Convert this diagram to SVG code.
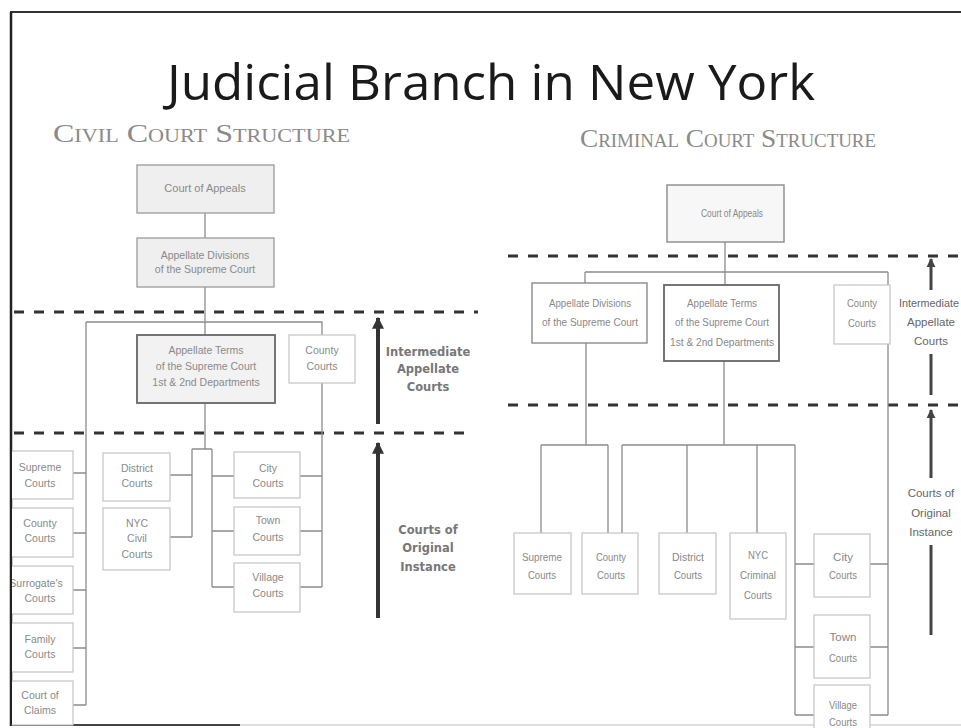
<svg xmlns="http://www.w3.org/2000/svg" width="961" height="728" viewBox="0 0 961 728">
<style>
.title{font-family:"Open Sans","DejaVu Sans",sans-serif;font-size:50px;fill:#1a1a1a}
.sub{font-family:"Liberation Serif",serif;font-size:26px;fill:#8a8a8a;font-variant:small-caps}
.bx{fill:#fff;stroke:#c4c4c4;stroke-width:1.2}
.bxg{fill:#efefef;stroke:#9a9a9a;stroke-width:1.3}
.bxd{fill:#f2f2f2;stroke:#666;stroke-width:1.8}
.bxm{fill:#fff;stroke:#8a8a8a;stroke-width:1.4}
.t{font-family:"Liberation Sans",Arial,sans-serif;font-size:10.5px;fill:#8a8a8a;text-anchor:middle}
.tc{font-family:"Liberation Sans",Arial,sans-serif;font-size:11.5px;fill:#888;text-anchor:middle}
.lab{font-family:"DejaVu Sans",Verdana,sans-serif;font-size:11.5px;font-weight:bold;fill:#777;text-anchor:middle}
.labc{font-family:"Liberation Sans",Arial,sans-serif;font-size:11.5px;fill:#666;text-anchor:middle}
.ln{fill:none;stroke:#8c8c8c;stroke-width:1.3}
.dash{fill:none;stroke:#333;stroke-width:3;stroke-dasharray:10 10}
.arr{fill:none;stroke:#333;stroke-width:4}
.arrc{fill:none;stroke:#444;stroke-width:3}
</style>
<defs>
<marker id="ah" viewBox="0 0 10 10" refX="9" refY="5" markerWidth="3" markerHeight="4" orient="auto"><path d="M0,0 L10,5 L0,10 z" fill="#333"/></marker>
<marker id="ahc" viewBox="0 0 10 10" refX="9" refY="5" markerWidth="3" markerHeight="4" orient="auto"><path d="M0,0 L10,5 L0,10 z" fill="#444"/></marker>
<clipPath id="clipL"><rect x="12" y="0" width="949" height="728"/></clipPath>
</defs>
<rect width="961" height="728" fill="#fff"/>
<g id="frame">
<line x1="10" y1="12" x2="961" y2="12" stroke="#333" stroke-width="2"/>
<line x1="11" y1="12" x2="11" y2="726" stroke="#222" stroke-width="2.5"/>
<line x1="11" y1="725" x2="240" y2="725" stroke="#444" stroke-width="2"/>
<line x1="240" y1="725" x2="961" y2="725" stroke="#ddd" stroke-width="2"/>
</g>
<text class="title" x="491" y="100" textLength="648" lengthAdjust="spacingAndGlyphs" text-anchor="middle">Judicial Branch in New York</text>
<text class="sub" x="53" y="142" textLength="297" lengthAdjust="spacingAndGlyphs">Civil Court Structure</text>
<text class="sub" x="580" y="147" textLength="296" lengthAdjust="spacingAndGlyphs">Criminal Court Structure</text>

<g id="levels">
<line class="dash" x1="14" y1="312" x2="478" y2="312"/>
<line class="dash" x1="14" y1="433" x2="470" y2="433"/>
<line class="dash" x1="508" y1="256" x2="961" y2="256"/>
<line class="dash" x1="508" y1="405" x2="961" y2="405"/>
<line class="arr" x1="378" y1="424" x2="378" y2="318" marker-end="url(#ah)"/>
<line class="arr" x1="378" y1="618" x2="378" y2="443" marker-end="url(#ah)"/>
<line class="arrc" x1="931" y1="290" x2="931" y2="259" marker-end="url(#ahc)"/>
<line class="arrc" x1="931" y1="354" x2="931" y2="395"/>
<line class="arrc" x1="931" y1="478" x2="931" y2="410" marker-end="url(#ahc)"/>
<line class="arrc" x1="931" y1="545" x2="931" y2="635"/>
<text class="lab" x="428" y="356">Intermediate</text>
<text class="lab" x="428" y="373">Appellate</text>
<text class="lab" x="428" y="391">Courts</text>
<text class="lab" x="428" y="534">Courts of</text>
<text class="lab" x="428" y="552">Original</text>
<text class="lab" x="428" y="571">Instance</text>
<text class="labc" x="929" y="307" textLength="60" lengthAdjust="spacingAndGlyphs">Intermediate</text>
<text class="labc" x="931" y="326">Appellate</text>
<text class="labc" x="931" y="345">Courts</text>
<text class="labc" x="931" y="497">Courts of</text>
<text class="labc" x="931" y="517">Original</text>
<text class="labc" x="931" y="536">Instance</text>
</g>

<g id="connectors">
<path class="ln" d="M205,213 V238 M205,287 V335 M86,322 H322 V335 M86,322 V705 M322,383 V587 M205,403 V449 M192,449 H212 M192,449 V537 M212,449 V587"/>
<path class="ln" d="M73,473 H86 M73,533 H86 M73,590 H86 M73,648 H86 M73,705 H86"/>
<path class="ln" d="M170,475 H192 M170,537 H192 M212,476 H234 M212,531 H234 M212,587 H234 M300,476 H322 M300,531 H322 M300,587 H322"/>
<path class="ln" d="M725,242 V285 M585,272 H888 M585,272 V283 M888,272 V285 M888,344 V715 M586,343 V445 M541,445 H608 M541,445 V533 M608,445 V533 M724,361 V445 M622,445 H795 M622,445 V533 M687,445 V533 M757,445 V533 M795,445 V715"/>
<path class="ln" d="M795,564 H814 M870,564 H888 M795,647 H814 M870,647 H888 M795,715 H814 M870,715 H888"/>
</g>

<g id="civil-court-of-appeals"><rect class="bxg" x="137" y="165" width="137" height="48"/><text class="t" x="205" y="192" style="font-size:11px">Court of Appeals</text></g>
<g id="civil-appellate-divisions"><rect class="bxg" x="137" y="238" width="137" height="49"/><text class="t" x="205" y="259">Appellate Divisions</text><text class="t" x="205" y="273">of the Supreme Court</text></g>
<g id="civil-appellate-terms"><rect class="bxd" x="137" y="335" width="138" height="68"/><text class="t" x="206" y="354">Appellate Terms</text><text class="t" x="206" y="370">of the Supreme Court</text><text class="t" x="206" y="386">1st &amp; 2nd Departments</text></g>
<g id="civil-county-courts-app"><rect class="bx" x="289" y="335" width="66" height="48"/><text class="t" x="322" y="354">County</text><text class="t" x="322" y="370">Courts</text></g>

<g id="civil-left" clip-path="url(#clipL)">
<g id="civil-supreme-courts"><rect class="bx" x="8" y="451" width="65" height="48"/><text class="t" x="40" y="471">Supreme</text><text class="t" x="40" y="487">Courts</text></g>
<g id="civil-county-courts"><rect class="bx" x="8" y="508" width="65" height="49"/><text class="t" x="40" y="527">County</text><text class="t" x="40" y="542">Courts</text></g>
<g id="civil-surrogates-courts"><rect class="bx" x="8" y="566" width="65" height="48"/><text class="t" x="36" y="587">Surrogate's</text><text class="t" x="40" y="602">Courts</text></g>
<g id="civil-family-courts"><rect class="bx" x="8" y="623" width="65" height="49"/><text class="t" x="40" y="643">Family</text><text class="t" x="40" y="658">Courts</text></g>
<g id="civil-court-of-claims"><rect class="bx" x="8" y="681" width="65" height="44"/><text class="t" x="40" y="699">Court of</text><text class="t" x="40" y="714">Claims</text></g>
</g>
<g id="civil-district-courts"><rect class="bx" x="103" y="453" width="67" height="48"/><text class="t" x="137" y="472">District</text><text class="t" x="137" y="487">Courts</text></g>
<g id="civil-nyc-civil-courts"><rect class="bx" x="103" y="508" width="67" height="62"/><text class="t" x="137" y="527">NYC</text><text class="t" x="137" y="542">Civil</text><text class="t" x="137" y="558">Courts</text></g>
<g id="civil-city-courts"><rect class="bx" x="234" y="452" width="66" height="46"/><text class="t" x="268" y="472">City</text><text class="t" x="268" y="487">Courts</text></g>
<g id="civil-town-courts"><rect class="bx" x="234" y="507" width="66" height="48"/><text class="t" x="268" y="524">Town</text><text class="t" x="268" y="541">Courts</text></g>
<g id="civil-village-courts"><rect class="bx" x="234" y="563" width="66" height="49"/><text class="t" x="268" y="581">Village</text><text class="t" x="268" y="597">Courts</text></g>

<g id="crim-court-of-appeals"><rect class="bxm" x="667" y="185" width="117" height="57" style="fill:#f7f7f7"/><text class="tc" x="732" y="217" textLength="62" lengthAdjust="spacingAndGlyphs">Court of Appeals</text></g>
<g id="crim-appellate-divisions"><rect class="bxm" x="532" y="283" width="115" height="60"/><text class="tc" x="590" y="307" textLength="82" lengthAdjust="spacingAndGlyphs">Appellate Divisions</text><text class="tc" x="590" y="326" textLength="96" lengthAdjust="spacingAndGlyphs">of the Supreme Court</text></g>
<g id="crim-appellate-terms"><rect class="bxd" x="664" y="285" width="115" height="76" style="fill:#fff"/><text class="tc" x="722" y="307" textLength="70" lengthAdjust="spacingAndGlyphs">Appellate Terms</text><text class="tc" x="722" y="326" textLength="94" lengthAdjust="spacingAndGlyphs">of the Supreme Court</text><text class="tc" x="722" y="346" textLength="104" lengthAdjust="spacingAndGlyphs">1st &amp; 2nd Departments</text></g>
<g id="crim-county-courts-app"><rect class="bx" x="834" y="285" width="56" height="59"/><text class="tc" x="862" y="307" textLength="30" lengthAdjust="spacingAndGlyphs">County</text><text class="tc" x="862" y="327" textLength="28" lengthAdjust="spacingAndGlyphs">Courts</text></g>
<g id="crim-supreme-courts"><rect class="bx" x="514" y="533" width="57" height="61"/><text class="tc" x="542" y="561" textLength="40" lengthAdjust="spacingAndGlyphs">Supreme</text><text class="tc" x="542" y="579" textLength="28" lengthAdjust="spacingAndGlyphs">Courts</text></g>
<g id="crim-county-courts"><rect class="bx" x="582" y="533" width="56" height="61"/><text class="tc" x="611" y="561" textLength="30" lengthAdjust="spacingAndGlyphs">County</text><text class="tc" x="611" y="579" textLength="28" lengthAdjust="spacingAndGlyphs">Courts</text></g>
<g id="crim-district-courts"><rect class="bx" x="659" y="533" width="57" height="61"/><text class="tc" x="688" y="561" textLength="32" lengthAdjust="spacingAndGlyphs">District</text><text class="tc" x="688" y="579" textLength="28" lengthAdjust="spacingAndGlyphs">Courts</text></g>
<g id="crim-nyc-criminal-courts"><rect class="bx" x="730" y="533" width="56" height="86"/><text class="tc" x="758" y="559" textLength="20" lengthAdjust="spacingAndGlyphs">NYC</text><text class="tc" x="758" y="579" textLength="36" lengthAdjust="spacingAndGlyphs">Criminal</text><text class="tc" x="758" y="599" textLength="28" lengthAdjust="spacingAndGlyphs">Courts</text></g>
<g id="crim-city-courts"><rect class="bx" x="814" y="534" width="56" height="63"/><text class="tc" x="843" y="561">City</text><text class="tc" x="843" y="579" textLength="28" lengthAdjust="spacingAndGlyphs">Courts</text></g>
<g id="crim-town-courts"><rect class="bx" x="814" y="615" width="56" height="63"/><text class="tc" x="843" y="641">Town</text><text class="tc" x="843" y="662" textLength="28" lengthAdjust="spacingAndGlyphs">Courts</text></g>
<g id="crim-village-courts"><rect class="bx" x="814" y="685" width="56" height="50"/><text class="tc" x="843" y="709" textLength="28" lengthAdjust="spacingAndGlyphs">Village</text><text class="tc" x="843" y="726" textLength="28" lengthAdjust="spacingAndGlyphs">Courts</text></g>
</svg>
